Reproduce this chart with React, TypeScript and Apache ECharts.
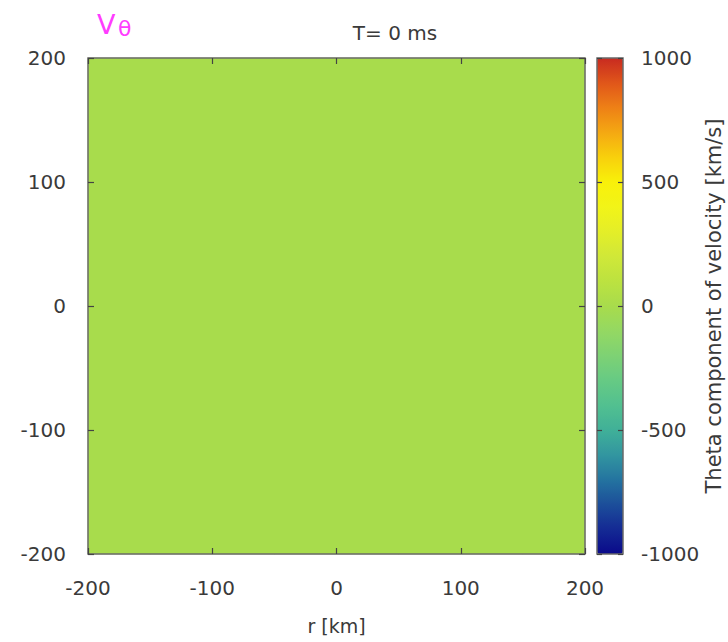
import React, { useEffect, useRef } from "react";
import * as echarts from "echarts";

// Radial (r) and vertical cell centres in km
const rCells = ["-175", "-125", "-75", "-25", "25", "75", "125", "175"];
const zCells = ["-175", "-125", "-75", "-25", "25", "75", "125", "175"];

// Theta component of velocity [km/s] at T = 0 ms (rows = z, columns = r)
const vTheta: number[][] = [
  [0, 0, 0, 0, 0, 0, 0, 0],
  [0, 0, 0, 0, 0, 0, 0, 0],
  [0, 0, 0, 0, 0, 0, 0, 0],
  [0, 0, 0, 0, 0, 0, 0, 0],
  [0, 0, 0, 0, 0, 0, 0, 0],
  [0, 0, 0, 0, 0, 0, 0, 0],
  [0, 0, 0, 0, 0, 0, 0, 0],
  [0, 0, 0, 0, 0, 0, 0, 0],
];

const axisTicks = [-200, -100, 0, 100, 200];
const cbTicks = [-1000, -500, 0, 500, 1000];

const palette = [
  "#0a0a8a", "#142a94", "#1c4e9a", "#2474a0", "#3296a0", "#40b098",
  "#52c090", "#66ca84", "#7ed274", "#94d862", "#a8dc4c", "#bce240",
  "#d0e838", "#e4ee28", "#f2f418", "#f8f00a", "#f8d00c", "#f4a812",
  "#ee8016", "#e0561a", "#c82a20",
];

const FONT = "DejaVu Sans";
const TXT = "#3a3a3a";

export default function App() {
  const ref = useRef<HTMLDivElement>(null);
  useEffect(() => {
    if (!ref.current) return;
    const chart = echarts.init(ref.current, undefined, { renderer: "svg" });
    const data: number[][] = [];
    vTheta.forEach((row, zi) => row.forEach((v, ri) => data.push([ri, zi, v])));

    const tickStyle = { show: true, inside: true, length: 6, lineStyle: { color: "#444", width: 1.2 } };
    const noLine = { show: false, onZero: false };
    const fmt = (v: number) => String(v);
    const label = { color: TXT, fontFamily: FONT, fontSize: 20, formatter: fmt };

    chart.setOption({
      animation: false,
      backgroundColor: "#ffffff",
      textStyle: { fontFamily: FONT },
      grid: [
        { left: 88, top: 58, width: 497, height: 496, outerBoundsMode: "none", containLabel: false, show: true, borderColor: "#6a6a6a", borderWidth: 1.5, backgroundColor: "#a8dc4c", z: 3 },
        { left: 597, top: 58, width: 26, height: 496, outerBoundsMode: "none", containLabel: false, show: true, borderColor: "#6a6a6a", borderWidth: 1.5, backgroundColor: "transparent", z: 10 },
      ],
      xAxis: [
        { type: "category", gridIndex: 0, data: rCells, show: false },
        {
          type: "value", gridIndex: 0, min: axisTicks[0], max: axisTicks[axisTicks.length - 1], interval: 100,
          position: "bottom", axisLine: noLine, splitLine: { show: false }, axisTick: tickStyle,
          axisLabel: { ...label, margin: 24 },
          name: "r [km]", nameLocation: "middle", nameGap: 62,
          nameTextStyle: { color: TXT, fontFamily: FONT, fontSize: 19 }, z: 5,
        },
        {
          type: "value", gridIndex: 0, min: -200, max: 200, interval: 100, position: "top",
          axisLine: noLine, splitLine: { show: false }, axisTick: tickStyle, axisLabel: { show: false }, z: 5,
        },
        { type: "category", gridIndex: 1, data: ["c"], show: false },
      ],
      yAxis: [
        { type: "category", gridIndex: 0, data: zCells, show: false },
        {
          type: "value", gridIndex: 0, min: -200, max: 200, interval: 100, position: "left",
          axisLine: noLine, splitLine: { show: false }, axisTick: tickStyle,
          axisLabel: { ...label, margin: 22 }, z: 5,
        },
        {
          type: "value", gridIndex: 0, min: -200, max: 200, interval: 100, position: "right",
          axisLine: noLine, splitLine: { show: false }, axisTick: tickStyle, axisLabel: { show: false }, z: 5,
        },
        {
          type: "value", gridIndex: 1, min: cbTicks[0], max: cbTicks[cbTicks.length - 1], interval: 500, position: "right",
          axisLine: noLine, splitLine: { show: false }, axisTick: { ...tickStyle, length: 5 },
          axisLabel: { ...label, margin: 18 }, z: 12,
          name: "Theta component of velocity [km/s]", nameLocation: "middle", nameRotate: 90, nameGap: 70,
          nameTextStyle: { color: TXT, fontFamily: FONT, fontSize: 21 },
        },
        {
          type: "value", gridIndex: 1, min: -1000, max: 1000, interval: 500, position: "left",
          axisLine: noLine, splitLine: { show: false }, axisTick: { ...tickStyle, length: 5 },
          axisLabel: { show: false }, z: 12,
        },
      ],
      visualMap: {
        type: "continuous", min: -1000, max: 1000, seriesIndex: 0, calculable: false, show: true,
        left: 597, top: 58, itemWidth: 26, itemHeight: 496, padding: 0, orient: "vertical",
        inRange: { color: palette }, z: 4,
      },
      series: [
        {
          type: "heatmap", xAxisIndex: 0, yAxisIndex: 0, data, z: 2,
          itemStyle: { borderWidth: 0 }, emphasis: { disabled: true },
        },
      ],
      graphic: [
        {
          type: "text", x: 395, y: 33, z: 20,
          style: { text: "T= 0 ms", fill: TXT, font: `20px "${FONT}"`, align: "center", verticalAlign: "middle" },
        },
        {
          type: "text", x: 97, y: 24, z: 20,
          style: { text: "V", fill: "#ff3cff", font: `27px "${FONT}"`, align: "left", verticalAlign: "middle" },
        },
        {
          type: "text", x: 118, y: 28, z: 20,
          style: { text: "θ", fill: "#ff3cff", font: `22px "${FONT}"`, align: "left", verticalAlign: "middle" },
        },
      ],
    });
    return () => chart.dispose();
  }, []);
  return <div ref={ref} style={{ position: "fixed", left: 0, top: 0, width: 728, height: 642 }} />;
}
